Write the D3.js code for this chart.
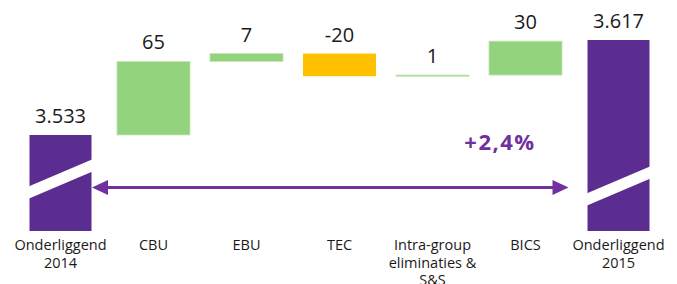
<!DOCTYPE html>
<html>
<head>
<meta charset="utf-8">
<script src="https://cdn.jsdelivr.net/npm/d3@7"></script>
<style>
  html, body { margin: 0; padding: 0; background: #ffffff; }
  svg { display: block; }
</style>
</head>
<body>
<div id="chart"></div>
<script>
// ---------- data ----------
const categories = ["Onderliggend 2014", "CBU", "EBU", "TEC", "Intra-group eliminaties & S&S", "BICS", "Onderliggend 2015"];
const categoryLines = [["Onderliggend", "2014"], ["CBU"], ["EBU"], ["TEC"], ["Intra-group", "eliminaties &", "S&S"], ["BICS"], ["Onderliggend", "2015"]];
const values = [3533, 65, 7, -20, 1, 30, 3617];
const valueLabels = ["3.533", "65", "7", "-20", "1", "30", "3.617"];
const barTypes = ["total", "delta", "delta", "delta", "delta", "delta", "total"];
const growthLabel = "+2,4%";

// ---------- layout ----------
const W = 677, H = 284;
const baseY = 231;
const colors = { total: "#5c2d91", up: "#94d37e", down: "#ffc000", arrow: "#7030a0", text: "#1a1a1a" };

const svg = d3.select("#chart").append("svg").attr("width", W).attr("height", H);

const x = d3.scaleBand().domain(categories).range([14, 665]).paddingInner(0.215).paddingOuter(0.1075);
const y = d3.scaleLinear().domain([3533, 3617]).range([135, 40]);

// compute waterfall
let running = 0;
const bars = categories.map((c, i) => {
  const v = values[i];
  if (barTypes[i] === "total") {
    running = v;
    return { c, i, type: "total", y0: y(v), y1: baseY, label: valueLabels[i] };
  }
  const start = running, end = running + v;
  running = end;
  return { c, i, type: v >= 0 ? "up" : "down", y0: Math.min(y(start), y(end)), y1: Math.max(y(start), y(end)), label: valueLabels[i] };
});

const totalW = 62;
function barX(d) { return d.type === "total" ? x(d.c) + x.bandwidth() / 2 - totalW / 2 : x(d.c); }
function barW(d) { return d.type === "total" ? totalW : x.bandwidth(); }

const g = svg.append("g");
g.selectAll("rect.bar").data(bars).enter().append("rect")
  .attr("class", "bar")
  .attr("x", barX)
  .attr("y", d => d.y0)
  .attr("width", barW)
  .attr("height", d => Math.max(1.2, d.y1 - d.y0))
  .attr("fill", d => colors[d.type])
  .attr("stroke", d => d.type === "up" ? "#c2e6b4" : "none")
  .attr("stroke-width", 0.8);

// axis-break bands on total bars
bars.filter(d => d.type === "total").forEach(d => {
  const x0 = barX(d) - 1, x1 = barX(d) + barW(d) + 1;
  const off = d.i === 0 ? 52 : 45;
  const cy = baseY - off;
  const slope = 0.425, half = 6.2;
  const mid = (x0 + x1) / 2;
  const yl = cy + (mid - x0) * slope, yr = cy - (x1 - mid) * slope;
  g.append("path")
    .attr("d", `M${x0},${yl - half}L${x1},${yr - half}L${x1},${yr + half}L${x0},${yl + half}Z`)
    .attr("fill", "#ffffff");
});

// value labels
g.selectAll("text.val").data(bars).enter().append("text")
  .attr("class", "val")
  .attr("x", d => x(d.c) + x.bandwidth() / 2)
  .attr("y", d => d.y0 - 12)
  .attr("text-anchor", "middle")
  .attr("font-family", "'Open Sans', sans-serif")
  .attr("font-size", 20)
  .attr("fill", colors.text)
  .text(d => d.label);

// category labels
const cat = g.selectAll("text.cat").data(bars).enter().append("text")
  .attr("class", "cat")
  .attr("text-anchor", "middle")
  .attr("font-family", "'Open Sans', sans-serif")
  .attr("font-size", 14.5)
  .attr("fill", colors.text);
cat.each(function(d) {
  const t = d3.select(this);
  categoryLines[d.i].forEach((ln, k) => {
    t.append("tspan")
      .attr("x", x(d.c) + x.bandwidth() / 2)
      .attr("y", 250 + k * 17.5)
      .text(ln);
  });
});

// double-headed arrow
const first = bars[0], last = bars[bars.length - 1];
const ax0 = barX(first) + barW(first) + 0.5;
const ax1 = barX(last) - 19;
const ay = 187.5;
const headL = 16, headH = 7.5;
g.append("line")
  .attr("x1", ax0 + headL - 2).attr("x2", ax1 - headL + 2)
  .attr("y1", ay).attr("y2", ay)
  .attr("stroke", colors.arrow).attr("stroke-width", 3);
g.append("path")
  .attr("d", `M${ax0},${ay}L${ax0 + headL},${ay - headH}L${ax0 + headL},${ay + headH}Z`)
  .attr("fill", colors.arrow);
g.append("path")
  .attr("d", `M${ax1},${ay}L${ax1 - headL},${ay - headH}L${ax1 - headL},${ay + headH}Z`)
  .attr("fill", colors.arrow);

// growth label
g.append("text")
  .attr("x", 500).attr("y", 150)
  .attr("text-anchor", "middle")
  .attr("font-family", "'Open Sans', sans-serif")
  .attr("font-weight", "bold")
  .attr("font-size", 22)
  .attr("letter-spacing", 1.5)
  .attr("fill", colors.arrow)
  .text(growthLabel);
</script>
</body>
</html>
